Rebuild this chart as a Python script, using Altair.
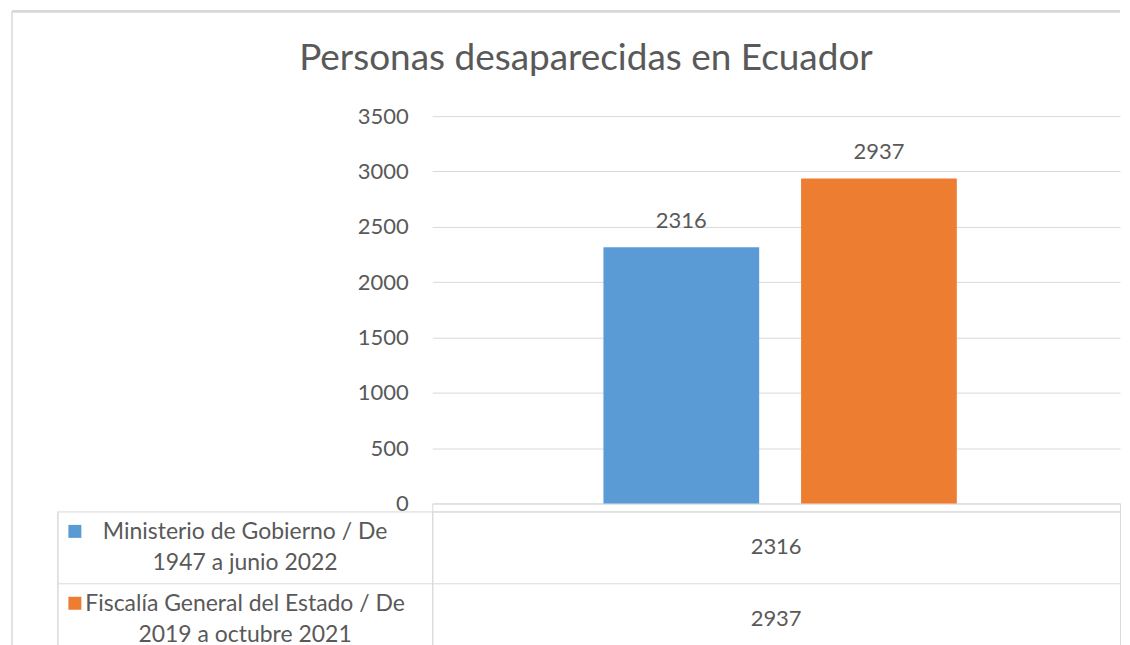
import altair as alt
import pandas as pd

# ---- data ----
chart_title = "Personas desaparecidas en Ecuador"
series = [
    "Ministerio de Gobierno  / De\n1947 a junio 2022",
    "Fiscalía General del Estado  / De\n2019 a octubre 2021",
]
values = [2316, 2937]
colors = ["#5B9BD5", "#ED7D31"]
category = ["", ""]
y_ticks = [0, 500, 1000, 1500, 2000, 2500, 3000, 3500]

df = pd.DataFrame({"serie": series, "valor": values, "cat": category})

FONT = "Lato"
GRAY = "#595959"
GRID = "#D9D9D9"
FRAME = "#D8D8D8"
W = 689
H = 388

color = alt.Color("serie:N", scale=alt.Scale(domain=series, range=colors), legend=None)

# ---- top: bar chart ----
x_top = alt.X(
    "cat:N",
    title=None,
    scale=alt.Scale(paddingInner=0, paddingOuter=0),
    axis=alt.Axis(labels=False, ticks=True, tickBand="extent", tickSize=8,
                  tickColor=GRID, domainColor=GRID, grid=False),
)
x_off = alt.XOffset("serie:N", sort=series,
                    scale=alt.Scale(paddingInner=0.212, paddingOuter=0.846, align=0.512))
y_top = alt.Y(
    "valor:Q",
    title=None,
    scale=alt.Scale(domain=[0, 3500], nice=False),
    axis=alt.Axis(values=y_ticks, format="d", domain=False, ticks=False,
                  labelPadding=24, labelFontSize=22, labelColor=GRAY, labelFont=FONT,
                  gridColor=GRID, minExtent=375, maxExtent=375),
)

base = alt.Chart(df)
# outer frame of the captured chart (decoration)
frame_top = base.mark_rule(color=FRAME, strokeWidth=2.5).encode(
    x=alt.value(-421), x2=alt.value(W), y=alt.value(-105))
frame_left_top = base.mark_rule(color="#E2E2E2", strokeWidth=2).encode(
    x=alt.value(-421), y=alt.value(-105), y2=alt.value(H + 8))

bars = base.mark_bar().encode(x=x_top, xOffset=x_off, y=y_top, color=color)
bar_labels = base.mark_text(dy=-19, baseline="alphabetic", fontSize=22, font=FONT,
                            color=GRAY).encode(
    x=x_top, xOffset=x_off, y=y_top, text=alt.Text("valor:Q", format="d"))
top = alt.layer(frame_top, frame_left_top, bars, bar_labels).properties(width=W, height=H)

# ---- bottom: data table ----
y_tab = alt.Y(
    "serie:N",
    sort=series,
    title=None,
    scale=alt.Scale(paddingInner=0, paddingOuter=0),
    axis=alt.Axis(
        labelExpr="split(datum.label, '\\n')",
        labelAlign="center",
        labelBaseline="middle",
        labelLineHeight=31,
        labelOffset=-15.5,
        labelPadding=-187,
        labelLimit=500,
        labelFont=FONT, labelFontSize=23, labelColor=GRAY,
        tickBand="extent", tickSize=375, tickColor=GRID,
        grid=True, gridColor=GRID, domainColor=GRID,
        minExtent=375, maxExtent=375,
    ),
)
x_tab = alt.X("cat:N", axis=None, scale=alt.Scale(paddingInner=0, paddingOuter=0))

frame_left_bottom = base.mark_rule(color="#E2E2E2", strokeWidth=2).encode(
    x=alt.value(-421), y=alt.value(0), y2=alt.value(144))
border = base.mark_rule(color=GRID).encode(
    x=alt.value(-375), y=alt.value(0), y2=alt.value(144))
keys = base.mark_square(size=169, opacity=1, yOffset=-16).encode(
    x=alt.value(-358), y=y_tab, color=color)
cells = base.mark_text(fontSize=22, font=FONT, color=GRAY).encode(
    x=x_tab, y=y_tab, text=alt.Text("valor:Q", format="d"))
table = alt.layer(frame_left_bottom, border, keys, cells).properties(
    width=W, height=144, view=alt.ViewBackground(stroke=GRID))

chart = (
    alt.vconcat(top, table, spacing=8, bounds="flush")
    .properties(
        title=alt.TitleParams(chart_title, font=FONT, fontSize=37, color=GRAY,
                              fontWeight="normal", anchor="middle",
                              baseline="alphabetic", offset=-98, dx=20),
        padding={"left": 2, "top": 0.75, "right": 0, "bottom": -4.5},
    )
    .configure_view(stroke="transparent")
)

chart.save("out.html", embed_options={"renderer": "svg", "actions": False})
